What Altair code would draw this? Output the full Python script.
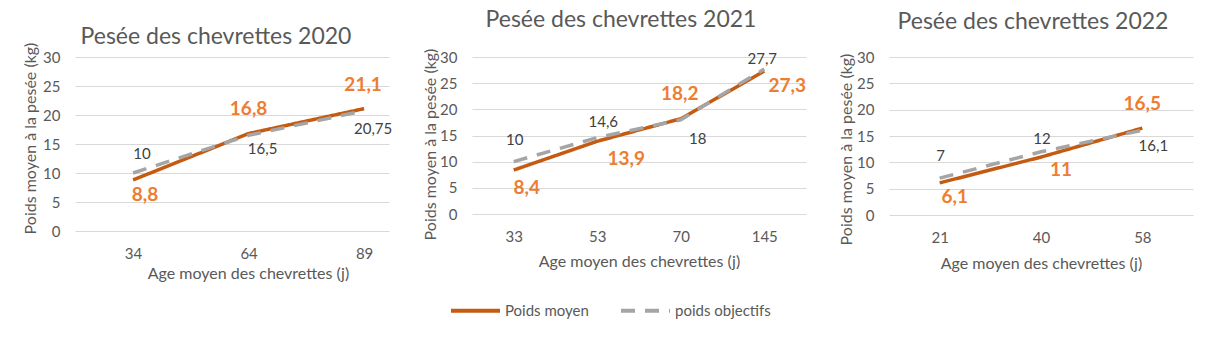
import altair as alt
import pandas as pd

# ---------------- data ----------------
series_names = ["Poids moyen", "poids objectifs"]
panel_titles = ["Pesée des chevrettes 2020", "Pesée des chevrettes 2021", "Pesée des chevrettes 2022"]

ages_2020 = [34, 64, 89]
moyen_2020 = [8.8, 16.8, 21.1]
objectif_2020 = [10, 16.5, 20.75]

ages_2021 = [33, 53, 70, 145]
moyen_2021 = [8.4, 13.9, 18.2, 27.3]
objectif_2021 = [10, 14.6, 18, 27.7]

ages_2022 = [21, 40, 58]
moyen_2022 = [6.1, 11, 16.5]
objectif_2022 = [7, 12, 16.1]

y_ticks = [0, 5, 10, 15, 20, 25, 30]

# ---------------- label placement (style, px offsets) ----------------
offs_moyen = {
    "2020": [(12, 15), (0, -25), (-1, -24)],
    "2021": [(13, 18), (29, 18), (-1, -25), (23, 15)],
    "2022": [(15, 14), (20, 13), (0, -24)],
}
offs_obj = {
    "2020": [(9, -19), (14, 14), (9, 18)],
    "2021": [(1, -22), (6, -16), (17, 19), (-2, -10)],
    "2022": [(1, -22), (1, -13), (11, 16)],
}

ORANGE_LINE = "#C55A11"
ORANGE_TXT = "#ED7D31"
GREY_LINE = "#A5A5A5"
TXT = "#595959"
FONT = "Lato"


def fmt(v):
    return f"{v:g}".replace(".", ",")


def make_df(ages, moyen, obj):
    rows = []
    for i, a in enumerate(ages):
        rows.append({"age": str(a), "i": i, "serie": series_names[0], "valeur": moyen[i], "label": fmt(moyen[i])})
    for i, a in enumerate(ages):
        rows.append({"age": str(a), "i": i, "serie": series_names[1], "valeur": obj[i], "label": fmt(obj[i])})
    return pd.DataFrame(rows)


legend = alt.Legend(
    title=None, orient="none", legendX=374, legendY=227, direction="horizontal",
    symbolType="stroke", symbolSize=2401, symbolStrokeWidth=4,
    labelFont=FONT, labelFontSize=15, labelColor=TXT, columnPadding=24, labelOffset=3,
)


def panel(key, ages, moyen, obj, title, width, height, pad, align,
          title_dx, title_offset, xt_x, xt_y, yt_x, yt_y):
    df = make_df(ages, moyen, obj)
    order = [str(a) for a in ages]
    x = alt.X("age:O", sort=order,
              scale=alt.Scale(type="point", padding=pad, align=align),
              axis=alt.Axis(title="Age moyen des chevrettes (j)", labelAngle=0, domain=False,
                            ticks=False, labelPadding=15, grid=False,
                            titleX=xt_x, titleY=xt_y, titleBaseline="alphabetic", titleAlign="center"))
    y = alt.Y("valeur:Q", scale=alt.Scale(domain=[0, 30], nice=False),
              axis=alt.Axis(values=y_ticks, title="Poids moyen à la pesée (kg)", domain=False,
                            ticks=False, labelPadding=15, gridColor="#D9D9D9",
                            titleX=yt_x, titleY=yt_y, titleBaseline="middle", titleAngle=-90,
                            titleAlign="center"))
    base = alt.Chart(df)
    lines = base.mark_line(strokeWidth=3.5, strokeCap="butt").encode(
        x=x, y=y,
        color=alt.Color("serie:N", scale=alt.Scale(domain=series_names, range=[ORANGE_LINE, GREY_LINE]), legend=legend),
        strokeDash=alt.StrokeDash("serie:N", scale=alt.Scale(domain=series_names, range=[[1, 0], [14, 10]]), legend=legend),
        order=alt.Order("i:Q"),
    )
    layers = [lines]
    for i in range(len(ages)):
        dx, dy = offs_moyen[key][i]
        layers.append(
            base.transform_filter((alt.datum.serie == series_names[0]) & (alt.datum.i == i))
            .mark_text(font=FONT, fontSize=19, fontWeight="bold", color=ORANGE_TXT, dx=dx, dy=dy,
                       align="center", baseline="middle")
            .encode(x=x, y=y, text="label:N")
        )
        dx, dy = offs_obj[key][i]
        layers.append(
            base.transform_filter((alt.datum.serie == series_names[1]) & (alt.datum.i == i))
            .mark_text(font=FONT, fontSize=15, color="#404040", dx=dx, dy=dy,
                       align="center", baseline="middle")
            .encode(x=x, y=y, text="label:N")
        )
    return alt.layer(*layers).properties(
        width=width, height=height,
        title=alt.TitleParams(text=title, font=FONT, fontSize=23, fontWeight="normal", color=TXT,
                              anchor="middle", frame="group", offset=title_offset, dx=title_dx,
                              baseline="alphabetic"),
    )


p1 = panel("2020", ages_2020, moyen_2020, objectif_2020, panel_titles[0], 314, 174, 0.359, 0.70,
           -16, -25, 173, 47, -45, 81)
p2 = panel("2021", ages_2021, moyen_2021, objectif_2021, panel_titles[1], 334, 157, 0.5, 0.5,
           -18, -2, 167, 52, -41.5, 87)
p3 = panel("2022", ages_2022, moyen_2022, objectif_2022, panel_titles[2], 304, 158, 0.5, 0.5,
           -8, -1.5, 152, 53, -43, 92)

chart = alt.hconcat(p1, p2, p3, spacing=83, bounds="flush").properties(
    padding={"left": 21, "top": 9, "right": 5, "bottom": 5},
    background="white",
).configure_axis(
    labelFont=FONT, titleFont=FONT, labelColor=TXT, titleColor=TXT,
    labelFontSize=15, titleFontSize=16, titleFontWeight="normal",
).configure_view(strokeWidth=0)

chart.save("out.html", embed_options={"renderer": "svg", "actions": False})
